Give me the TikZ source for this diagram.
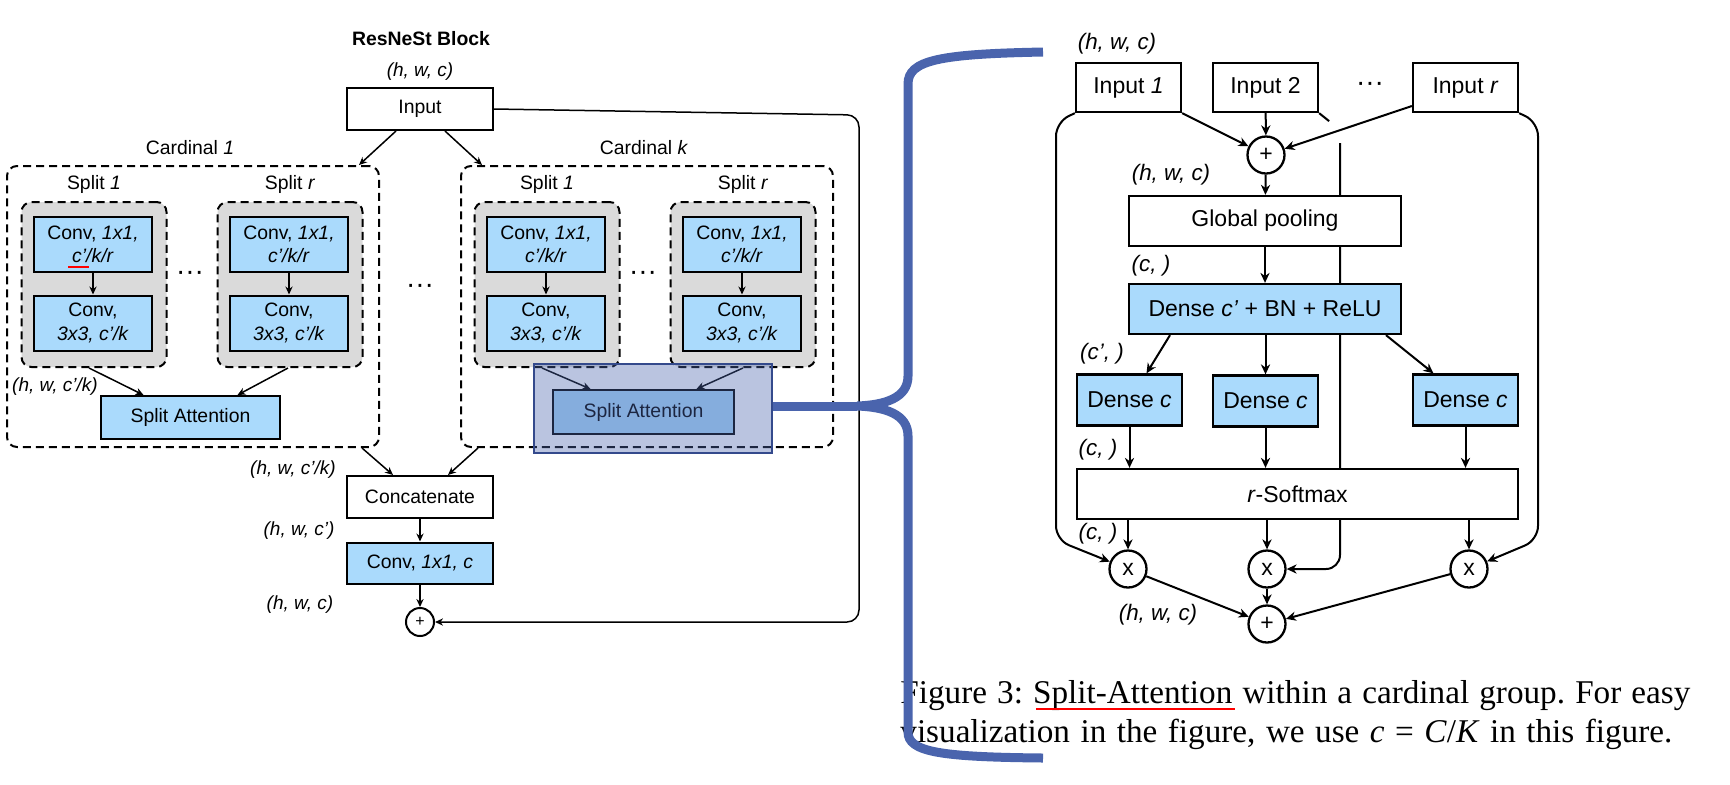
\documentclass[tikz,border=0pt]{standalone}
\usepackage{fontspec}
\setmainfont{Liberation Sans}
\newfontfamily\capfont{Liberation Serif}
\usetikzlibrary{arrows.meta,calc,backgrounds}
\definecolor{convblue}{RGB}{170,218,252}
\definecolor{splitgray}{RGB}{218,218,218}
\definecolor{markblue}{RGB}{74,100,173}
\definecolor{markedge}{RGB}{52,74,140}

\begin{document}
\begin{tikzpicture}[x=0.5pt,y=-0.5pt,
   lfont/.style={font=\fontsize{9.7}{11.7}\selectfont},
   rfont/.style={font=\fontsize{11.5}{13.5}\selectfont},
   lbox/.style={draw,fill=white,line width=1pt,inner sep=0pt,align=center,lfont},
   rbox/.style={draw,fill=white,line width=1.15pt,inner sep=0pt,align=center,rfont},
   convbox/.style={lbox,fill=convblue,minimum width=59pt,minimum height=27.5pt},
   splitbox/.style={draw,fill=splitgray,line width=1pt,dash pattern=on 4pt off 2.5pt,rounded corners=5pt,minimum width=72.5pt,minimum height=82.5pt},
   cardbox/.style={draw,line width=1pt,dash pattern=on 4pt off 2.5pt,rounded corners=5pt,minimum width=186pt,minimum height=140.5pt},
   ldim/.style={font=\fontsize{9.5}{11}\selectfont\itshape},
   rdim/.style={font=\fontsize{11.2}{13}\selectfont\itshape},
   dotrow/.style={inner sep=0pt,font=\fontsize{14}{14}\selectfont},
   lsum/.style={draw,circle,line width=1pt,inner sep=0pt,minimum size=14pt,font=\fontsize{8}{9}\selectfont},
   rsum/.style={draw,circle,fill=white,line width=1.15pt,inner sep=0pt,minimum size=18.5pt,rfont},
   capline/.style={anchor=base west,inner sep=0pt,font=\capfont\frenchspacing\fontsize{16.6}{19.5}\selectfont},
   larrow/.style={-{Stealth[length=4pt,width=3.6pt,inset=1.3pt]},line width=0.75pt},
   rarrow/.style={-{Stealth[length=5pt,width=4.6pt,inset=1.6pt]},line width=1pt},
   bracket/.style={markblue,line width=4.5pt}]
   \useasboundingbox (0,0) rectangle (1730,784);

   \node[font=\fontsize{9.7}{12}\selectfont\bfseries] (title) at (421,39) {ResNeSt Block};
   \node[ldim] (dimin) at (420,72) {(h, w, c)};
   \node[lbox,minimum width=73pt,minimum height=21pt] (input) at (420,109) {Input};

   \node[cardbox] (card1) at (193,306.5) {};
   \node[cardbox] (cardk) at (647,306.5) {};
   \node[lfont] (card1lab) at (190,148) {Cardinal \textit{1}};
   \node[lfont] (cardklab) at (644,148) {Cardinal \textit{k}};

   \foreach \n/\x/\s in {a/94/1,b/290/r,c/547/1,d/743/r}{
      \node[lfont] (lab\n) at (\x,184) {Split \textit{\s}};
      \node[splitbox] (split\n) at (\x,284.5) {};
      \node[convbox] (top\n) at (\x-1,244.5) {Conv, \textit{1x1,}\\\textit{c’/k/r}};
      \node[convbox] (bot\n) at (\x-1,323) {Conv,\\\textit{3x3, c’/k}};
      \draw[larrow] (top\n) -- (bot\n);
   }
   \draw[red,line width=1pt] (68,267) -- (89,267);

   \node[dotrow] (dotsa) at (190,276) {···};
   \node[dotrow] (dotsb) at (420,289) {···};
   \node[dotrow] (dotsc) at (643,276) {···};

   \node[lbox,fill=convblue,minimum width=89.5pt,minimum height=21.5pt] (sa1) at (190.5,417.5) {Split Attention};
   \node[lbox,fill=convblue,minimum width=90.5pt,minimum height=22pt] (sak) at (643.5,412) {Split Attention};
   \node[ldim] (dimsplit) at (55,387) {(h, w, c’/k)};
   \draw[larrow] ($(splita.south)+(-5,0)$) -- ($(sa1.north)+(-47,0)$);
   \draw[larrow] ($(splitb.south)+(-2,0)$) -- ($(sa1.north)+(47,0)$);
   \draw[larrow] ($(splitc.south)+(-5,0)$) -- ($(sak.north)+(-53,0)$);
   \draw[larrow] (splitd.south) -- ($(sak.north)+(53,0)$);

   \draw[larrow] ($(input.south)+(-24,0)$) -- ($(card1.north east)+(-21,0)$);
   \draw[larrow] ($(input.south)+(25,0)$) -- ($(cardk.north west)+(22,0)$);

   \node[ldim] (dimcat) at (293,470) {(h, w, c’/k)};
   \node[lbox,minimum width=73pt,minimum height=21pt] (concat) at (420,497) {Concatenate};
   \node[ldim] (dimconv) at (299,531) {(h, w, c’)};
   \node[lbox,fill=convblue,minimum width=73pt,minimum height=20.5pt] (convc) at (420,563) {Conv, \textit{1x1, c}};
   \node[ldim] (dimout) at (300,605) {(h, w, c)};
   \node[lsum] (sum) at (420,622) {+};
   \draw[larrow] ($(card1.south east)+(-18,0)$) -- ($(concat.north)+(-27,0)$);
   \draw[larrow] ($(cardk.south west)+(18,0)$) -- ($(concat.north)+(28,0)$);
   \draw[larrow] (concat) -- (convc);
   \draw[larrow] (convc) -- (sum);
   \draw[larrow,rounded corners=6pt] (input.east) -- (859,115) -- (859,622) -- (sum.east);

   \node[rdim] (rdimin) at (1117,44) {(h, w, c)};
   \node[rbox,minimum width=52.5pt,minimum height=24.5pt] (in1) at (1128.5,87.5) {Input \textit{1}};
   \node[rbox,minimum width=52.5pt,minimum height=24.5pt] (in2) at (1265.5,87.5) {Input 2};
   \node[rbox,minimum width=52.5pt,minimum height=24.5pt] (inr) at (1465.5,87.5) {Input \textit{r}};
   \node[dotrow] (rdots) at (1370,87) {···};
   \node[rsum] (rsum) at (1266,155) {+};
   \node[rdim] (rdimsum) at (1171,175) {(h, w, c)};
   \node[rbox,minimum width=136pt,minimum height=25pt] (pool) at (1265,221) {Global pooling};
   \node[rdim] (rdimpool) at (1151,266) {(c, )};
   \node[rbox,fill=convblue,minimum width=136pt,minimum height=25pt] (fc) at (1265,309) {Dense \textit{c’} + BN + ReLU};
   \node[rdim] (rdimfc) at (1102,354) {(c’, )};
   \node[rbox,fill=convblue,minimum width=52.5pt,minimum height=25.5pt] (dc1) at (1129.5,400) {Dense \textit{c}};
   \node[rbox,fill=convblue,minimum width=52.5pt,minimum height=25.5pt] (dc2) at (1265.5,401) {Dense \textit{c}};
   \node[rbox,fill=convblue,minimum width=52.5pt,minimum height=25.5pt] (dc3) at (1465.5,400) {Dense \textit{c}};
   \node[rdim] (rdimdc) at (1098,450) {(c, )};
   \node[rbox,minimum width=220.5pt,minimum height=25pt] (soft) at (1297.5,494) {\textit{r}-Softmax};
   \node[rdim] (rdimsoft) at (1098,534) {(c, )};
   \node[rsum] (mul1) at (1128,569) {x};
   \node[rsum] (mul2) at (1267,569) {x};
   \node[rsum] (mul3) at (1469,569) {x};
   \node[rdim] (rdimout) at (1158,615) {(h, w, c)};
   \node[rsum] (out) at (1267,624) {+};

   \begin{scope}[on background layer]
      \draw[line width=1pt] (in2.south east) -- ++(10,8);
      \draw[rarrow,rounded corners=7pt] (1340,143) |- (mul2.east);
   \end{scope}
   \draw[rarrow,rounded corners=7pt] (in1.south west) -- (1056,122) -- (1056,540) -- (mul1);
   \draw[rarrow,rounded corners=7pt] (inr.south east) -- (1538,122) -- (1538,540) -- (mul3);
   \draw[rarrow] (in1.south east) -- (rsum);
   \draw[rarrow] (in2) -- (rsum);
   \draw[rarrow] ($(inr.west)+(0,18.5)$) -- (rsum);
   \draw[rarrow] (rsum) -- (pool);
   \draw[rarrow] (pool) -- (fc);
   \draw[rarrow] ($(fc.south)+(-95,0)$) -- ($(dc1.north)+(17,0)$);
   \draw[rarrow] (fc.south -| dc2) -- (dc2);
   \draw[rarrow] ($(fc.south)+(121,0)$) -- ($(dc3.north)+(-32,0)$);
   \foreach \i in {1,2,3}{
      \draw[rarrow] (dc\i.south) -- (dc\i.south |- soft.north);
      \draw[rarrow] (mul\i |- soft.south) -- (mul\i);
      \draw[rarrow] (mul\i) -- (out);
   }

   \node[capline] (cap1) at (900,703) {\makebox[395pt][s]{Figure 3: Split-Attention within a cardinal group. For easy}};
   \node[capline] (cap2) at (900,742) {\makebox[386pt][s]{visualization in the figure, we use \textit{c} = \textit{C}/\textit{K} in this figure.}};
   \draw[red,line width=1.2pt] (1036,709) -- (1235,709);

   \node[draw=markedge,line width=1pt,fill=markblue,fill opacity=0.38,minimum width=119pt,minimum height=44.5pt,inner sep=0pt] (mark) at (653,408.5) {};
   \coordinate (tip) at (857,406);
   \draw[bracket] (mark.east |- tip) -- (tip);
   \draw[bracket] (1043,52) .. controls (940,54) and (908,60) .. (908,84) -- (908,376) .. controls (908,398) and (885,405) .. (tip) .. controls (885,407) and (908,414) .. (908,436) -- (908,732) .. controls (908,752) and (940,757) .. (1043,758);
\end{tikzpicture}
\end{document}
